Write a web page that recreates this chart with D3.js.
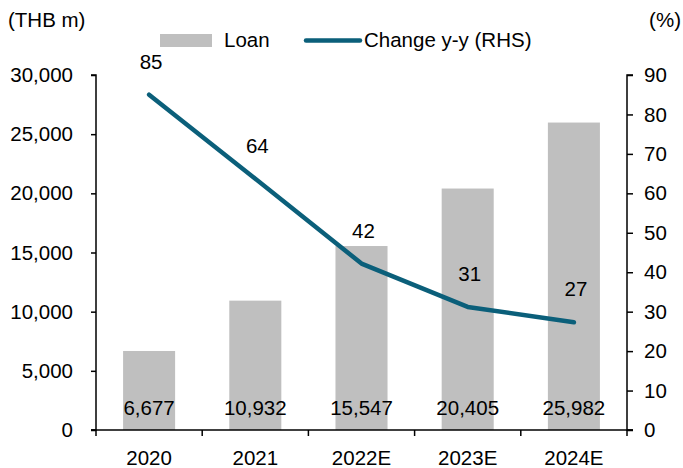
<!DOCTYPE html>
<html><head><meta charset="utf-8">
<script src="https://cdn.jsdelivr.net/npm/d3@7"></script>
<style>
html,body{margin:0;padding:0;background:#fff;}
svg{display:block;font-family:"Liberation Sans",Arial,sans-serif;}
</style></head>
<body>
<svg id="c" width="683" height="468"></svg>
<script>
const categories = ["2020","2021","2022E","2023E","2024E"];
const loan = [6677,10932,15547,20405,25982];
const loanLabels = ["6,677","10,932","15,547","20,405","25,982"];
const change = [85,63.7,42.2,31.2,27.3];
const changeLabels = ["85","64","42","31","27"];
const leftTicks = [0,5000,10000,15000,20000,25000,30000];
const rightTicks = [0,10,20,30,40,50,60,70,80,90];

const svg = d3.select("#c");
const L = 96, R = 627, T = 75, B = 430;
const fs = 20.5;
const x = d3.scaleBand().domain(categories).range([L,R]).paddingInner(0.51).paddingOuter(0.255);
const yL = d3.scaleLinear().domain([0,30000]).range([B,T]);
const yR = d3.scaleLinear().domain([0,90]).range([B,T]);
const barColor = "#bfbfbf", lineColor = "#0b5f7a";

// bars
svg.append("g").selectAll("rect").data(loan).join("rect")
  .attr("x",(d,i)=>x(categories[i])).attr("width",x.bandwidth())
  .attr("y",d=>yL(d)).attr("height",d=>B-yL(d)).attr("fill",barColor);

// bar labels
svg.append("g").selectAll("text").data(loanLabels).join("text")
  .attr("x",(d,i)=>x(categories[i])+x.bandwidth()/2).attr("y",415)
  .attr("text-anchor","middle").attr("font-size",fs).attr("fill","#000").text(d=>d);

// axes
const axL = d3.axisLeft(yL).tickValues(leftTicks).tickSize(5).tickPadding(18).tickFormat(d3.format(","));
const axR = d3.axisRight(yR).tickValues(rightTicks).tickSize(6).tickPadding(11);
const band = (R-L)/categories.length;
const xTickPos = d3.range(categories.length+1).map(i=>L+i*band);

function styleAxis(g){
  g.select(".domain").attr("stroke","#000").attr("stroke-width",1.5);
  g.selectAll(".tick line").attr("stroke","#000").attr("stroke-width",1.5);
  g.selectAll(".tick text").attr("font-size",fs).attr("fill","#000").attr("font-family","Liberation Sans, Arial, sans-serif");
}
const gL = svg.append("g").attr("transform",`translate(${L},0)`).call(axL);
gL.select(".domain").attr("d",`M-5,${B}H0V${T}H-5`);
styleAxis(gL);
const gR = svg.append("g").attr("transform",`translate(${R},0)`).call(axR);
gR.select(".domain").attr("d",`M6,${B}H0V${T}H6`);
styleAxis(gR);

// x axis
const gX = svg.append("g");
gX.append("line").attr("x1",L-5).attr("x2",R+6).attr("y1",B).attr("y2",B).attr("stroke","#000").attr("stroke-width",1.5);
gX.selectAll("line.t").data(xTickPos).join("line").attr("class","t")
  .attr("x1",d=>d).attr("x2",d=>d).attr("y1",B).attr("y2",B+6).attr("stroke","#000").attr("stroke-width",1.5);
gX.selectAll("text").data(categories).join("text")
  .attr("x",d=>x(d)+x.bandwidth()/2).attr("y",465).attr("text-anchor","middle")
  .attr("font-size",fs).attr("fill","#000").text(d=>d);

// line
const line = d3.line().x((d,i)=>x(categories[i])+x.bandwidth()/2).y(d=>yR(d));
svg.append("path").datum(change).attr("d",line).attr("fill","none")
  .attr("stroke",lineColor).attr("stroke-width",4.5).attr("stroke-linejoin","round").attr("stroke-linecap","round");

svg.append("g").selectAll("text").data(changeLabels).join("text")
  .attr("x",(d,i)=>x(categories[i])+x.bandwidth()/2+2).attr("y",(d,i)=>yR(change[i])-26)
  .attr("text-anchor","middle").attr("font-size",fs).attr("fill","#000").text(d=>d);

// titles
svg.append("text").attr("x",8).attr("y",27).attr("font-size",fs).text("(THB m)");
svg.append("text").attr("x",681).attr("y",27).attr("text-anchor","end").attr("font-size",fs).text("(%)");

// legend
svg.append("rect").attr("x",160).attr("y",34).attr("width",52).attr("height",13).attr("fill",barColor);
svg.append("text").attr("x",224).attr("y",47).attr("font-size",fs).text("Loan");
svg.append("line").attr("x1",306).attr("x2",360).attr("y1",40.5).attr("y2",40.5)
  .attr("stroke",lineColor).attr("stroke-width",4.5).attr("stroke-linecap","round");
svg.append("text").attr("x",364).attr("y",47).attr("font-size",fs).text("Change y-y (RHS)");
</script>
</body></html>
